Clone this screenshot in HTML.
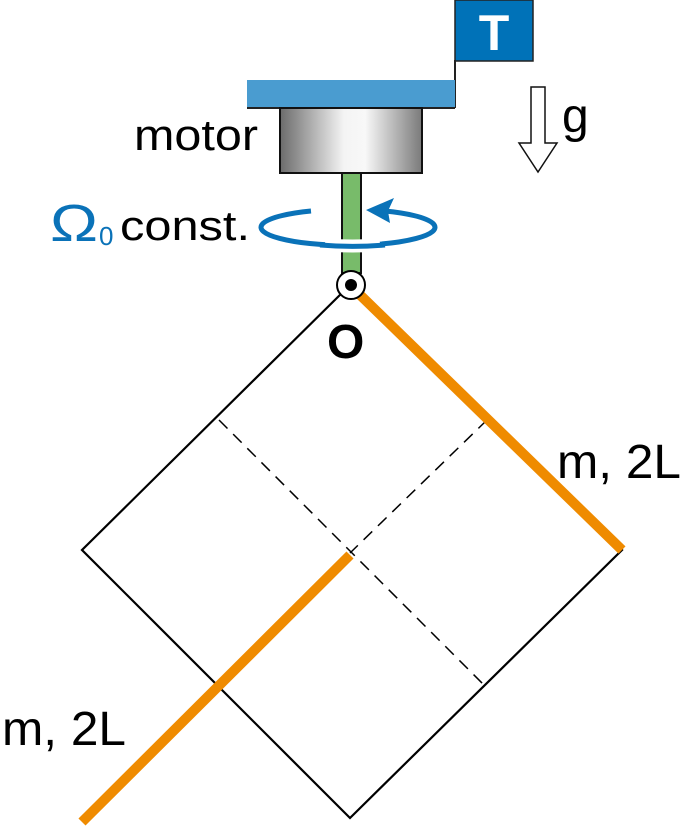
<!DOCTYPE html>
<html><head><meta charset="utf-8"><style>
html,body{margin:0;padding:0;background:#fff;}
svg{display:block;}
text{font-family:"Liberation Sans","DejaVu Sans",sans-serif;}
</style></head><body>
<svg width="683" height="830" viewBox="0 0 683 830" xmlns="http://www.w3.org/2000/svg">
<defs>
<linearGradient id="mg" x1="0" x2="1" y1="0" y2="0">
<stop offset="0" stop-color="#6b6b6b"/>
<stop offset="0.45" stop-color="#f4f4f4"/>
<stop offset="0.6" stop-color="#f8f8f8"/>
<stop offset="1" stop-color="#7a7a7a"/>
</linearGradient>
</defs>
<rect x="455" y="0" width="78" height="61" fill="#0072b8" stroke="#222" stroke-width="1.5"/>
<text x="494" y="50" font-size="50" font-weight="bold" fill="#fff" text-anchor="middle">T</text>
<line x1="455" y1="60" x2="455" y2="108" stroke="#222" stroke-width="2"/>
<rect x="247" y="80" width="208" height="28" fill="#4a9cd0"/>
<line x1="247" y1="108" x2="455" y2="108" stroke="#222" stroke-width="2"/>
<rect x="280" y="108" width="142" height="65" fill="url(#mg)" stroke="#111" stroke-width="2"/>
<text x="134" y="150" font-size="44" fill="#000" textLength="124" lengthAdjust="spacingAndGlyphs">motor</text>
<path d="M311 211 A87 18 0 1 0 385 211" fill="none" stroke="#0a72b8" stroke-width="5"/>
<path d="M366 210 L394 198 L388 211 L390 223 Z" fill="#0a72b8"/>
<rect x="342" y="173" width="19" height="100" fill="#78bb6a" stroke="#111" stroke-width="2"/>
<path d="M325 245 A87 18 0 0 0 380 245" fill="none" stroke="#fff" stroke-width="13"/>
<path d="M320 245 A87 18 0 0 0 385 245" fill="none" stroke="#0a72b8" stroke-width="5"/>
<text x="50" y="241" font-size="52" fill="#0a72b8" textLength="48" lengthAdjust="spacingAndGlyphs">Ω</text>
<text x="99" y="245" font-size="26" fill="#0a72b8">0</text>
<text x="120" y="240" font-size="42" fill="#000" textLength="130" lengthAdjust="spacingAndGlyphs">const.</text>
<path d="M531 87 L545 87 L545 143 L557 143 L538 172 L519 143 L531 143 Z" fill="#fff" stroke="#111" stroke-width="1.5"/>
<text x="562" y="132" font-size="48" fill="#000">g</text>
<polygon points="350,285 622,550 350,818 82,550" fill="none" stroke="#000" stroke-width="2.2"/>
<line x1="219" y1="420" x2="487" y2="688" stroke="#000" stroke-width="1.5" stroke-dasharray="12,8"/>
<line x1="487" y1="420" x2="350" y2="553" stroke="#000" stroke-width="1.5" stroke-dasharray="12,8"/>
<line x1="355" y1="290" x2="622" y2="550" stroke="#ef8b00" stroke-width="10"/>
<line x1="350" y1="555" x2="82" y2="822" stroke="#ef8b00" stroke-width="10"/>
<circle cx="351" cy="285" r="14" fill="#fff" stroke="#000" stroke-width="2"/>
<circle cx="351" cy="285" r="6" fill="#000"/>
<text x="327" y="358" font-size="48" font-weight="bold" fill="#000">O</text>
<text x="557" y="478" font-size="48" fill="#000" textLength="124" lengthAdjust="spacingAndGlyphs">m, 2L</text>
<text x="2" y="745" font-size="48" fill="#000" textLength="124" lengthAdjust="spacingAndGlyphs">m, 2L</text>
</svg>
</body></html>
